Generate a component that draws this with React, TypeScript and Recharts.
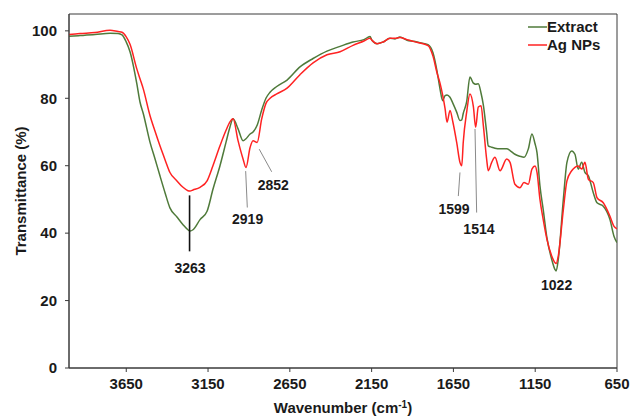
import { LineChart, Line, XAxis, YAxis, ReferenceArea, ReferenceLine, ReferenceDot, Label } from 'recharts'

const FONT = '"Liberation Sans", Arial, Helvetica, sans-serif'
const AXIS = '#3a3a3a'
const GREEN = '#4f7a3a'
const RED = '#ff2222'

// FTIR spectra, wavenumber in cm-1 (high to low)
const wavenumbers = [
  4000, 3933, 3841, 3749, 3700, 3676, 3651, 3627, 3586, 3566,
  3546, 3505, 3474, 3444, 3413, 3383, 3340, 3303, 3273, 3260,
  3242, 3199, 3156, 3120, 3077, 3040, 3016, 2997, 2967, 2936,
  2918, 2893, 2875, 2850, 2822, 2796, 2771, 2730, 2667, 2588,
  2508, 2423, 2343, 2264, 2197, 2160, 2148, 2117, 2080, 2038,
  2007, 1977, 1934, 1891, 1854, 1805, 1775, 1750, 1732, 1716,
  1701, 1689, 1671, 1653, 1630, 1610, 1599, 1590, 1569, 1549,
  1528, 1514, 1498, 1481, 1467, 1447, 1437, 1416, 1396, 1365,
  1324, 1304, 1274, 1243, 1219, 1192, 1170, 1151, 1139, 1121,
  1101, 1078, 1049, 1029, 1022, 1009, 978, 956, 927, 907,
  887, 866, 846, 825, 795, 772, 734, 693, 668, 650,
]

const extract = [
  98.4, 98.6, 98.9, 99.3, 99.2, 98.8, 96.8, 93.8, 84.5, 78.9,
  75.5, 67, 62, 57, 52, 47.5, 44.8, 42.5, 41.0, 40.6,
  41.0, 44, 46.5, 53, 60, 67, 71.5, 73.9, 71, 67.4,
  68.0, 69.4, 70, 72, 76.5, 80, 81.8, 83.5, 85.4, 89.3,
  91.8, 94, 95.4, 96.7, 97.4, 98.3, 97.2, 96.2, 96.7, 97.8,
  97.6, 98.2, 97.2, 96.9, 96.5, 95.9, 93.5, 88, 82.8, 79.3,
  80.8, 81, 80.3, 78.5, 75.9, 73.4, 73.6, 75.5, 79, 86.3,
  84.5, 84.2, 84.3, 81.5, 78, 70, 65.9, 65.5, 65.2, 65,
  65, 64.5, 63.4, 62.8, 62.5, 65, 69.4, 66.5, 63.9, 54,
  47, 38.5, 32.2, 29.2, 28.8, 32.2, 50, 61, 64.4, 63.4,
  59, 61, 58, 57, 52, 49, 48, 44, 39, 37.2,
]

const agNps = [
  98.9, 99.2, 99.5, 100.2, 99.8, 99.6, 98.3, 96.0, 88.8, 85.8,
  82.8, 74.9, 70.2, 65.9, 61.8, 58, 55.5, 53.6, 52.6, 52.5,
  52.8, 53.6, 55.5, 60, 65.9, 70.5, 73, 73.9, 67.5, 62,
  59.5, 65.4, 67.4, 66.9, 73.9, 78.5, 80, 81.3, 83, 87,
  90.5, 92.9, 93.8, 95.7, 97.0, 97.8, 97.2, 96.2, 96.7, 97.8,
  97.8, 98.0, 97.4, 96.8, 96.4, 95.6, 92.5, 87.5, 84.5, 81,
  76.9, 72.9, 76.4, 72.9, 66.9, 61, 60, 66.9, 75.9, 81.3,
  77.5, 71.4, 77.4, 77.8, 71.9, 62, 58.5, 61, 62.5, 58.5,
  62, 61, 54.5, 53.5, 55, 54.5, 59, 59.9, 58, 50,
  44, 38.1, 33.2, 31.2, 31.0, 33.2, 47, 55.5, 58.5, 59.5,
  59.9, 59, 61, 56, 55, 50.5, 49, 45, 42, 41.3,
]

const xTicks = [3650, 3150, 2650, 2150, 1650, 1150, 650]
const yTicks = [0, 20, 40, 60, 80, 100]

// peak callouts: text anchor and optional leader line, in data units
const peaks = [
  { text: '3263', at: [3260, 29.8], from: [3263, 51.2], to: [3263, 34.6], dark: true },
  { text: '2919', at: [2908, 44.1], from: [2920, 58.4], to: [2910, 47.6] },
  { text: '2852', at: [2751, 54.2], from: [2837, 64.9], to: [2761, 58.2] },
  { text: '1599', at: [1646, 47.1], from: [1610, 58], to: [1620, 51] },
  { text: '1514', at: [1494, 41.1], from: [1518, 70.9], to: [1508, 46.1] },
  { text: '1022', at: [1019, 24.7] },
]

const data = wavenumbers.map((wn, i) => ({ wn, extract: extract[i], agNps: agNps[i] }))

const series = [
  { key: 'extract', name: 'Extract', color: GREEN },
  { key: 'agNps', name: 'Ag NPs', color: RED },
]

const tickStyle = { fontSize: 15, fontWeight: 700, fill: '#1a1a1a', fontFamily: FONT }

function LegendBox() {
  return (
    <div
      style={{
        position: 'absolute',
        left: 528,
        top: 18,
        fontFamily: FONT,
        fontWeight: 700,
        fontSize: 15,
        color: '#1a1a1a',
        lineHeight: '18px',
      }}
    >
      {series.map((s) => (
        <div key={s.key} style={{ display: 'flex', alignItems: 'center' }}>
          <svg width={19} height={18}>
            <line x1={0} x2={19} y1={9} y2={9} stroke={s.color} strokeWidth={1.5} />
          </svg>
          <span>{s.name}</span>
        </div>
      ))}
    </div>
  )
}

export default function App() {
  return (
    <div style={{ position: 'absolute', left: 0, top: 0, width: 632, height: 416, background: '#fff' }}>
      <LineChart width={632} height={416} data={data} margin={{ top: 14, right: 15, left: 0, bottom: 0 }}>
        <XAxis
          dataKey="wn"
          type="number"
          domain={[650, 4000]}
          reversed
          ticks={xTicks}
          height={48}
          tickSize={4}
          tickMargin={6}
          stroke={AXIS}
          tick={tickStyle}
          allowDataOverflow
        >
          <Label
            content={({ viewBox }: any) => (
              <text
                x={viewBox.x + viewBox.width / 2}
                y={viewBox.y + 45}
                textAnchor="middle"
                fontFamily={FONT}
                fontWeight={700}
                fontSize={15}
                fill="#1a1a1a"
              >
                Wavenumber (cm
                <tspan dy={-5} fontSize={10}>-1</tspan>
                <tspan dy={5}>)</tspan>
              </text>
            )}
          />
        </XAxis>
        <YAxis
          type="number"
          domain={[0, 105]}
          ticks={yTicks}
          width={69}
          tickSize={4}
          tickMargin={8}
          stroke={AXIS}
          tick={tickStyle}
          allowDataOverflow
        >
          <Label
            content={({ viewBox }: any) => (
              <text
                x={20}
                y={viewBox.y + viewBox.height / 2}
                transform={`rotate(-90 20 ${viewBox.y + viewBox.height / 2})`}
                textAnchor="middle"
                dominantBaseline="central"
                fontFamily={FONT}
                fontWeight={700}
                fontSize={15}
                fill="#1a1a1a"
              >
                Transmittance (%)
              </text>
            )}
          />
        </YAxis>
        <ReferenceArea x1={4000} x2={650} y1={0} y2={105} fill="none" fillOpacity={0} stroke={AXIS} strokeWidth={1} />
        {series.map((s) => (
          <Line
            key={s.key}
            dataKey={s.key}
            name={s.name}
            type="monotone"
            stroke={s.color}
            strokeWidth={1.5}
            dot={false}
            isAnimationActive={false}
          />
        ))}
        {peaks.map((p) =>
          p.from ? (
            <ReferenceLine
              key={`l-${p.text}`}
              segment={[
                { x: p.from[0], y: p.from[1] },
                { x: p.to![0], y: p.to![1] },
              ]}
              stroke={p.dark ? '#111' : '#8a8a8a'}
              strokeWidth={p.dark ? 1.6 : 1}
            />
          ) : null
        )}
        {peaks.map((p) => (
          <ReferenceDot
            key={`t-${p.text}`}
            x={p.at[0]}
            y={p.at[1]}
            r={0}
            fill="none"
            stroke="none"
            label={{
              value: p.text,
              position: 'center',
              fontSize: 14,
              fontWeight: 700,
              fill: '#1a1a1a',
              fontFamily: FONT,
            }}
          />
        ))}
      </LineChart>
      <LegendBox />
    </div>
  )
}
